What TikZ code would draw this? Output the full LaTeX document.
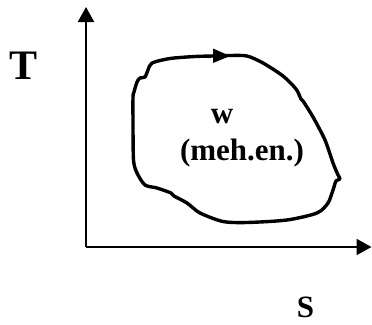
\documentclass[tikz,border=0pt]{standalone}
\usepackage{fontspec}
\setmainfont{Liberation Serif}
\usetikzlibrary{arrows.meta}

\begin{document}
\begin{tikzpicture}[x=1pt, y=-1pt,
    axis/.style={line width=2.2pt, -{Triangle[length=15pt,width=16pt]}},
    loopline/.style={line width=3.4pt, line join=round, line cap=round},
    bigtext/.style={font=\fontsize{42}{48}\selectfont\bfseries, inner sep=0pt, anchor=base},
    midtext/.style={font=\fontsize{31}{36}\selectfont\bfseries, inner sep=0pt, anchor=base}
]
\useasboundingbox (0,0) rectangle (372,324);

% Axes
\coordinate (origin) at (86,247);
\coordinate (tend) at (86,7);
\coordinate (send) at (371.5,247);
\draw[axis] (origin) -- (tend);
\draw[axis] (origin) -- (send);

% Axis labels
\node[bigtext] (tlabel) at (23.5,79) {T};
\node[midtext] (slabel) at (305.5,317) {S};

% Cycle
\draw[loopline] plot[smooth cycle, tension=0.45] coordinates {
    (152,63) (170,58.5) (195,56.5) (213,56) (230,55.5) (247,56) (263,63)
    (283,76) (296,89) (301,99) (303,101) (313,117) (325,140) (333,163)
    (338,175) (340,179) (336,181) (333,190) (328,203) (317,213) (287,220)
    (247,222.5) (223,221.5) (200,213) (187,203) (174,196) (171,193)
    (157,188) (145,185) (137,173) (133.5,160) (133,123) (133,97) (134,92)
    (137,82) (140,78) (145,77) (148,70)};
\fill (213,48.5) -- (230,56) -- (213,63) -- cycle;

% Work
\node[midtext] (work) at (222,123) {w};
\node[midtext] (energy) at (242,160) {(meh.en.)};
\end{tikzpicture}
\end{document}
